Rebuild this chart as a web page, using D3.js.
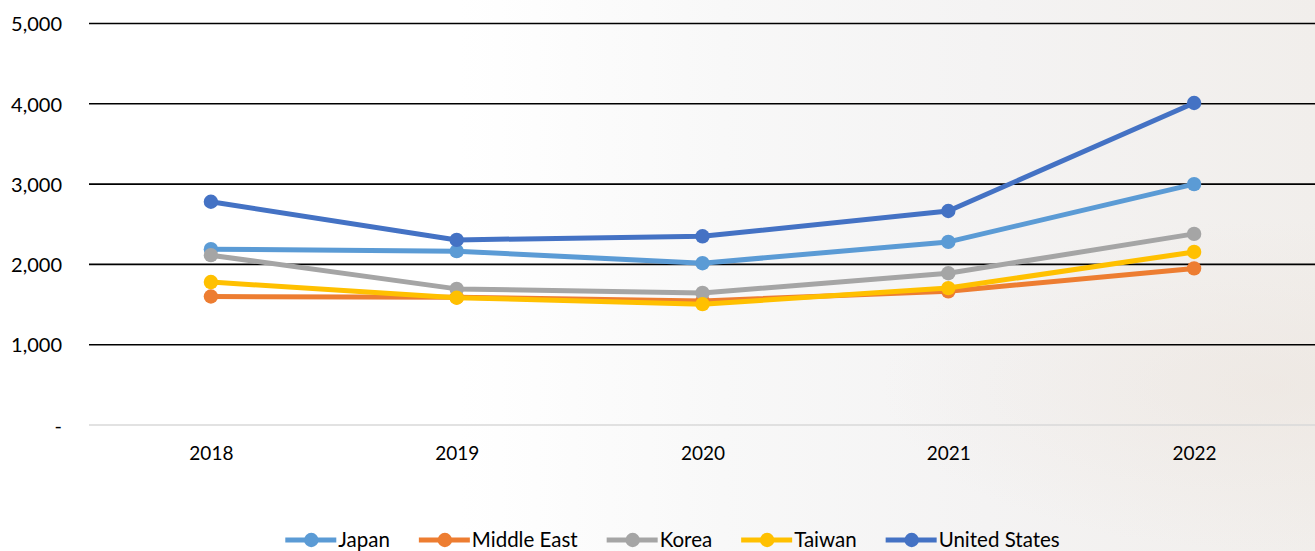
<!DOCTYPE html>
<html>
<head>
<meta charset="utf-8">
<script src="https://cdn.jsdelivr.net/npm/d3@7"></script>
<style>
  html, body { margin: 0; padding: 0; background: #fff; }
  svg { display: block; }
  text { font-family: Lato, "Open Sans", sans-serif; fill: #000; }
</style>
</head>
<body>
<svg id="chart" width="1315" height="551"></svg>
<script>
const years = ["2018", "2019", "2020", "2021", "2022"];
const seriesNames = ["Japan", "Middle East", "Korea", "Taiwan", "United States"];
const japan = [2190, 2165, 2015, 2280, 3000];
const middleEast = [1600, 1590, 1545, 1665, 1950];
const korea = [2115, 1695, 1645, 1890, 2380];
const taiwan = [1780, 1585, 1505, 1705, 2155];
const unitedStates = [2780, 2305, 2350, 2665, 4010];
const yTicks = [0, 1000, 2000, 3000, 4000, 5000];
const colors = ["#5B9BD5", "#ED7D31", "#A5A5A5", "#FFC000", "#4472C4"];

const seriesValues = [japan, middleEast, korea, taiwan, unitedStates];
const W = 1315, H = 551;
const svg = d3.select("#chart");

// background
const defs = svg.append("defs");
const g1 = defs.append("linearGradient").attr("id", "bg").attr("x1", "0").attr("x2", "1").attr("y1", "0").attr("y2", "0");
[["0%", "#ffffff"], ["35%", "#ffffff"], ["55%", "#f8f8f8"], ["75%", "#f4f3f3"], ["100%", "#f1eeeb"]]
  .forEach(([o, c]) => g1.append("stop").attr("offset", o).attr("stop-color", c));
svg.append("rect").attr("width", W).attr("height", H).attr("fill", "url(#bg)");
const g2 = defs.append("radialGradient").attr("id", "glow").attr("cx", "0.97").attr("cy", "0.7").attr("r", "0.3");
g2.append("stop").attr("offset", "0%").attr("stop-color", "#ebe3dc").attr("stop-opacity", 0.5);
g2.append("stop").attr("offset", "100%").attr("stop-color", "#ebe3dc").attr("stop-opacity", 0);
svg.append("rect").attr("width", W).attr("height", H).attr("fill", "url(#glow)");

const x = d3.scalePoint().domain(years).range([88, 1317]).padding(0.5);
const y = d3.scaleLinear().domain([0, 5000]).range([425, 23.5]);

// gridlines
const grid = svg.append("g");
grid.selectAll("line").data(yTicks).join("line")
  .attr("x1", 89).attr("x2", W)
  .attr("y1", d => y(d)).attr("y2", d => y(d))
  .attr("stroke", d => d === 0 ? "#d9d9d9" : "#000")
  .attr("stroke-width", 1.6);

// y axis labels
const yAxis = d3.axisLeft(y).tickValues(yTicks).tickSize(0).tickPadding(0)
  .tickFormat(d => d === 0 ? "-" : d3.format(",")(d));
const ya = svg.append("g").attr("transform", "translate(62,0)").call(yAxis);
ya.select(".domain").remove();
ya.selectAll("text").style("font-family", "Lato").style("font-size", "20px").attr("fill", "#000").attr("dy", "0.36em");

// x axis labels
const xAxis = d3.axisBottom(x).tickSize(0).tickPadding(0);
const xa = svg.append("g").attr("transform", "translate(0,446)").call(xAxis);
xa.select(".domain").remove();
xa.selectAll("text").style("font-family", "Lato").style("font-size", "19px").attr("fill", "#000").attr("dy", "0.74em");

// lines
const line = d3.line().x((d, i) => x(years[i])).y(d => y(d));
seriesValues.forEach((vals, si) => {
  const g = svg.append("g");
  g.append("path").datum(vals).attr("d", line)
    .attr("fill", "none").attr("stroke", colors[si]).attr("stroke-width", 5)
    .attr("stroke-linejoin", "round").attr("stroke-linecap", "round");
  g.selectAll("circle").data(vals).join("circle")
    .attr("cx", (d, i) => x(years[i])).attr("cy", d => y(d)).attr("r", 7.2)
    .attr("fill", colors[si]);
});

// legend
const legend = svg.append("g");
const items = legend.selectAll("g").data(seriesNames).join("g");
items.append("line").attr("x1", 0).attr("x2", 51).attr("y1", 0).attr("y2", 0)
  .attr("stroke", (d, i) => colors[i]).attr("stroke-width", 5);
items.append("circle").attr("cx", 26).attr("cy", 0).attr("r", 7.2).attr("fill", (d, i) => colors[i]);
items.append("text").attr("x", 53).attr("y", 0).attr("dy", "0.36em")
  .style("font-size", "20.5px").text(d => d);
let widths = [];
items.each(function () { widths.push(53 + this.querySelector("text").getComputedTextLength()); });
const gap = 29;
const total = d3.sum(widths) + gap * (widths.length - 1);
let cx = 672.5 - total / 2;
items.each(function (d, i) {
  d3.select(this).attr("transform", `translate(${cx},540)`);
  cx += widths[i] + gap;
});
</script>
</body>
</html>
